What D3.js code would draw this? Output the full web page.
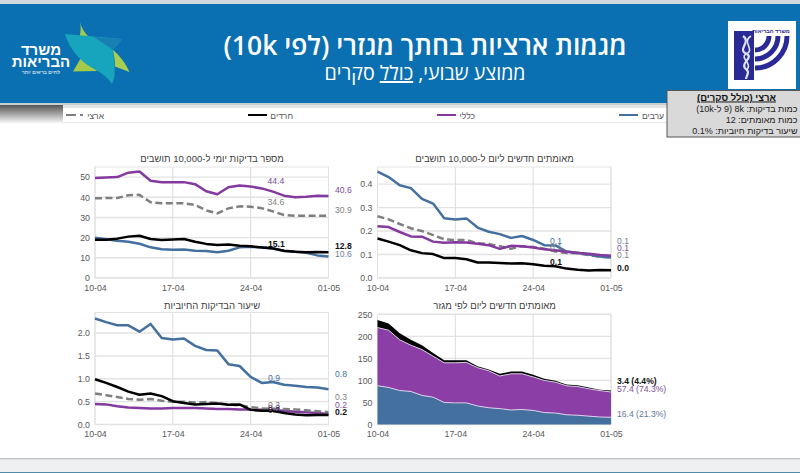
<!DOCTYPE html>
<html>
<head>
<meta charset="utf-8">
<script src="https://cdn.jsdelivr.net/npm/d3@7"></script>
<style>
  html, body { margin: 0; padding: 0; background: #fff; overflow: hidden; }
  text { font-family: "Liberation Sans", Arial, sans-serif; }
  .heb { direction: rtl; }
  .axis path, .axis line { display: none; }
  .axis text { font-size: 8.8px; fill: #595959; font-family: "Liberation Sans", sans-serif; }
</style>
</head>
<body>
<div id="my_dataviz"></div>
<script>
// data, one value per day
const days = ["10-04","11-04","12-04","13-04","14-04","15-04","16-04","17-04","18-04","19-04","20-04",
  "21-04","22-04","23-04","24-04","25-04","26-04","27-04","28-04","29-04","30-04","01-05"];
const tickDays = ["10-04","17-04","24-04","01-05"];

// daily tests per 10,000
const testsGeneral = [49.5,49.8,50,52.2,52.8,48.2,47.5,47.5,47.5,46.5,43,41.5,45,45.8,45.3,44.4,42.8,40.8,40,40.2,40.7,40.6];
const testsNational = [39.5,39.6,39.6,41,41.2,37.5,37,37,37,36.2,33.5,32,34.5,35.5,35.3,34.6,33,31.2,30.8,30.9,30.9,30.9];
const testsHaredi = [19,19,19.5,20.5,20.9,19.3,18.8,19.1,19.3,18,16.9,16.3,16.6,16,15.7,15.1,14.6,13.5,13,12.8,12.9,12.8];
const testsArab = [20,19.2,18.5,18,17,15.2,14.2,14,14.1,13.5,13.4,12.8,13.5,15.2,15.5,15.2,14.7,13.4,13,12.5,11.2,10.6];

// new confirmed per 10,000
const confirmedArab = [0.453,0.43,0.395,0.383,0.337,0.317,0.255,0.249,0.254,0.215,0.197,0.187,0.171,0.179,0.162,0.14,0.139,0.113,0.108,0.1,0.092,0.087];
const confirmedNational = [0.263,0.25,0.23,0.212,0.2,0.183,0.165,0.162,0.162,0.148,0.145,0.135,0.125,0.135,0.132,0.125,0.113,0.107,0.105,0.098,0.09,0.088];
const confirmedGeneral = [0.221,0.217,0.196,0.177,0.176,0.155,0.15,0.152,0.151,0.146,0.14,0.124,0.137,0.135,0.13,0.122,0.118,0.112,0.107,0.103,0.098,0.095];
const confirmedHaredi = [0.168,0.155,0.14,0.118,0.106,0.102,0.085,0.085,0.08,0.066,0.066,0.064,0.062,0.063,0.059,0.052,0.05,0.04,0.035,0.032,0.034,0.033];

// positive rate
const positiveArab = [2.32,2.24,2.17,2.17,2.03,2.2,1.89,1.86,1.88,1.72,1.63,1.62,1.32,1.28,1.04,0.91,0.93,0.87,0.85,0.82,0.81,0.77];
const positiveHaredi = [0.99,0.91,0.82,0.72,0.65,0.68,0.62,0.51,0.47,0.44,0.45,0.46,0.43,0.44,0.32,0.3,0.3,0.25,0.22,0.2,0.21,0.21];
const positiveNational = [0.68,0.64,0.6,0.56,0.54,0.56,0.52,0.5,0.5,0.48,0.49,0.47,0.44,0.42,0.38,0.35,0.34,0.34,0.33,0.31,0.29,0.27];
const positiveGeneral = [0.45,0.44,0.4,0.37,0.36,0.35,0.35,0.36,0.36,0.36,0.35,0.34,0.34,0.33,0.33,0.32,0.31,0.3,0.28,0.27,0.25,0.23];

// new confirmed per day by sector (stacked)
const casesArab = [88,84,77,75,66,62,50,49,49,42,38,36,33,34,32,27,26,22,21,19,17,16.4];
const casesGeneral = [132,130,115,105,104,93,90,91,92,87,84,74,82,81,76,73,70,66,65,62,60,57.4];
const casesHaredi = [17,15,15,12,10,7,6,6,5,3,3,5,5,5,5,4,3,3,3,3,2,3.4];

const blue = "#44709f", purple = "#84399f", black = "#000", gray = "#7f7f7f";
const headerBlue = "#0a70b2";
const emblemBlue = "#2a2a96";

const svg = d3.select("#my_dataviz").append("svg")
    .attr("width", 800)
    .attr("height", 473)
    .style("display", "block");

const defs = svg.append("defs");
const shadow = defs.append("linearGradient").attr("id", "shade").attr("x1", 0).attr("x2", 0).attr("y1", 0).attr("y2", 1);
shadow.append("stop").attr("offset", 0).attr("stop-color", "#555");
shadow.append("stop").attr("offset", 1).attr("stop-color", "#fff");

// page frame
svg.append("rect").attr("width", 800).attr("height", 4).attr("fill", "#cfd8df");
svg.append("rect").attr("y", 4).attr("width", 800).attr("height", 99).attr("fill", headerBlue);
svg.append("rect").attr("y", 103).attr("width", 800).attr("height", 2).attr("fill", "#c9ced3");
svg.append("rect").attr("y", 105).attr("width", 63).attr("height", 19).attr("fill", "url(#shade)");
svg.append("rect").attr("x", 63).attr("y", 105).attr("width", 737).attr("height", 3).attr("fill", "#e4e4e4");
svg.append("rect").attr("y", 459).attr("width", 800).attr("height", 13).attr("fill", "#eef0f2");
svg.append("rect").attr("y", 458).attr("width", 800).attr("height", 1.5).attr("fill", "#c4c6c8");
svg.append("rect").attr("y", 472).attr("width", 800).attr("height", 1).attr("fill", "#4f8aa8");

// titles
svg.append("text").attr("class", "heb").attr("x", 425).attr("y", 55)
    .attr("text-anchor", "middle").attr("fill", "#fff")
    .style("font-family", "'Open Sans','Liberation Sans',sans-serif")
    .style("font-size", "26.5px").style("font-weight", 600)
    .text("מגמות ארציות בחתך מגזרי (לפי 10k)");
const sub = svg.append("text").attr("class", "heb").attr("x", 425).attr("y", 80)
    .attr("text-anchor", "middle").attr("fill", "#fff")
    .style("font-family", "'Open Sans','Liberation Sans',sans-serif")
    .style("font-size", "19.6px");
sub.append("tspan").text("ממוצע שבועי, ");
sub.append("tspan").style("text-decoration", "underline").text("כולל");
sub.append("tspan").text(" סקרים");

// ministry mark, left
const mark = svg.append("g");
mark.append("path").attr("d", "M80 22 C82 30 87 36 94 41 L79 38 C81 33 81 27 80 22Z").attr("fill", "#a5c94a");
mark.append("path").attr("d", "M82 56 L73 71.5 L97 71 C92 65 87 60 82 56Z").attr("fill", "#a5c94a");
mark.append("path").attr("d", "M65 34 C70 50 80 62 96 70 C103 74 108 78 112 84 C116 76 115 68 113 50 L122 39Z").attr("fill", "#16a5bd");
mark.append("path").attr("d", "M94 37 L122 39 L113 50Z").attr("fill", "#1a80b3");
mark.append("path").attr("d", "M113 50 C120 56 126 64 129.5 72 L115 66.5 C115 61 114 55 113 50Z").attr("fill", "#a9cf52");
const markText = svg.append("g").attr("fill", "#fff").attr("text-anchor", "middle").attr("class", "heb");
markText.append("text").attr("x", 41).attr("y", 55).style("font-size", "15px").style("font-weight", 700).text("משרד");
markText.append("text").attr("x", 41).attr("y", 66.5).style("font-size", "15px").style("font-weight", 700).text("הבריאות");
markText.append("text").attr("x", 41).attr("y", 73.5).style("font-size", "5px").text("לחיים בריאים יותר");

// ministry emblem, right
svg.append("rect").attr("x", 728).attr("y", 21).attr("width", 68).attr("height", 68).attr("fill", "#fff");
const emblem = svg.append("g").attr("fill", "none").attr("stroke", emblemBlue);
emblem.append("rect").attr("x", 734).attr("y", 31).attr("width", 20).attr("height", 49).attr("fill", emblemBlue).attr("stroke", "none");
[32, 23, 14].forEach(function(r) {
  emblem.append("path").attr("d", `M${755 + r} 36 A${r} ${r} 0 0 1 755 ${36 + r}`).attr("stroke-width", 5);
});
emblem.append("path").attr("d", "M743 36 C752 42 736 50 747 54 C754 58 738 64 747 70 C750 73 746 76 746 79")
    .attr("stroke", "#dfe3f5").attr("stroke-width", 2.2);
emblem.append("path").attr("d", "M751 36 C741 42 756 50 746 54 C739 58 754 64 746 70")
    .attr("stroke", "#dfe3f5").attr("stroke-width", 1.6);
svg.append("text").attr("class", "heb").attr("x", 771).attr("y", 33).attr("text-anchor", "middle")
    .attr("fill", emblemBlue).style("font-size", "5.5px").style("font-weight", 700).text("משרד הבריאות");

// legend strip
svg.append("rect").attr("x", 63).attr("y", 108).attr("width", 605).attr("height", 14).attr("fill", "#fff");
svg.append("rect").attr("x", 63).attr("y", 122).attr("width", 605).attr("height", 1).attr("fill", "#e6e6e6");
const legendItems = [
  {name: "ארצי", color: gray, dash: "10 4 3 99", x1: 66, x2: 83, tx: 104},
  {name: "חרדים", color: black, dash: null, x1: 248, x2: 267, tx: 293},
  {name: "כללי", color: purple, dash: null, x1: 437, x2: 456, tx: 475},
  {name: "ערבים", color: blue, dash: null, x1: 619, x2: 638, tx: 664}
];
legendItems.forEach(function(d) {
  svg.append("line").attr("x1", d.x1).attr("x2", d.x2).attr("y1", 115).attr("y2", 115)
      .attr("stroke", d.color).attr("stroke-width", 2).attr("stroke-dasharray", d.dash);
  svg.append("text").attr("class", "heb").attr("x", d.tx).attr("y", 118.5).attr("text-anchor", "start")
      .attr("fill", "#555").style("font-size", "8.5px").text(d.name);
});

// info box
svg.append("rect").attr("x", 667).attr("y", 90.5).attr("width", 134).attr("height", 46.5)
    .attr("fill", "#d9d9d9").attr("stroke", "#555");
svg.append("text").attr("class", "heb").attr("x", 736.5).attr("y", 100.5).attr("text-anchor", "middle")
    .attr("fill", "#111").style("font-size", "9.5px").style("font-weight", 700)
    .style("text-decoration", "underline").text("ארצי (כולל סקרים)");
["כמות בדיקות: 8k (9 ל-10k)", "כמות מאומתים: 12", "שיעור בדיקות חיוביות: 0.1%"].forEach(function(t, i) {
  svg.append("text").attr("class", "heb").attr("x", 797.5).attr("y", 112 + i * 11.2).attr("text-anchor", "start")
      .attr("fill", "#222").style("font-size", "9px").text(t);
});

const parseDay = function(s) {
  const p = s.split("-");
  return new Date(2020, +p[1] - 1, +p[0]);
};
const formatDay = d3.timeFormat("%d-%m");
const dates = days.map(parseDay);

// builds the frame shared by the four panels
function panel(opt) {
  const x = d3.scaleTime().domain(d3.extent(dates)).range([opt.left, opt.left + 233.5]);
  const y = d3.scaleLinear().domain(opt.domain).range([opt.bottom, opt.top]);
  const g = svg.append("g");

  // grid
  opt.ticks.forEach(function(t) {
    g.append("line").attr("x1", x.range()[0]).attr("x2", x.range()[1])
        .attr("y1", y(t)).attr("y2", y(t))
        .attr("stroke", "#e3e3e3").attr("stroke-width", 1.4);
  });
  tickDays.forEach(function(t) {
    g.append("line").attr("x1", x(parseDay(t))).attr("x2", x(parseDay(t)))
        .attr("y1", opt.top).attr("y2", opt.bottom)
        .attr("stroke", "#dcdcdc").attr("stroke-width", 1);
  });
  g.append("rect").attr("x", x.range()[0]).attr("y", opt.top)
      .attr("width", x.range()[1] - x.range()[0]).attr("height", opt.bottom - opt.top)
      .attr("fill", "none").attr("stroke", "#e3e3e3").attr("stroke-width", 1);

  // axes
  g.append("g").attr("class", "axis")
      .attr("transform", `translate(0,${opt.bottom})`)
      .call(d3.axisBottom(x).tickValues(tickDays.map(parseDay)).tickFormat(formatDay).tickSize(0).tickPadding(6.5));
  g.append("g").attr("class", "axis")
      .attr("transform", `translate(${opt.left},0)`)
      .call(d3.axisLeft(y).tickValues(opt.ticks).tickFormat(d3.format(opt.fmt)).tickSize(0).tickPadding(5));

  // title
  g.append("text").attr("class", "heb").attr("x", opt.left + 117).attr("y", opt.titleY)
      .attr("text-anchor", "middle").attr("fill", "#404040").style("font-size", "9.5px").text(opt.title);
  return {x: x, y: y, g: g};
}

function drawLine(p, values, color, dash) {
  const line = d3.line().x((d, i) => p.x(dates[i])).y(d => p.y(d));
  p.g.append("path").datum(values).attr("d", line)
      .attr("fill", "none").attr("stroke", color).attr("stroke-width", 2.5)
      .attr("stroke-linejoin", "round").attr("stroke-dasharray", dash);
}

function drawLabel(p, txt, px, py, color, bold) {
  p.g.append("text").attr("x", px).attr("y", py).attr("fill", color)
      .style("font-size", "8.6px").style("font-weight", bold ? 700 : 400).text(txt);
}

// daily tests
const tests = panel({left: 95, top: 167, bottom: 278, titleY: 161.5, domain: [0, 55], ticks: [0,10,20,30,40,50], fmt: "d",
  title: "מספר בדיקות יומי ל-10,000 תושבים"});
drawLine(tests, testsArab, blue);
drawLine(tests, testsNational, gray, "7 3.5");
drawLine(tests, testsHaredi, black);
drawLine(tests, testsGeneral, purple);
drawLabel(tests, "44.4", 267.5, 184, "#7b4d98");
drawLabel(tests, "34.6", 267.5, 205.3, "#7f7f7f");
drawLabel(tests, "15.1", 268, 246.7, "#111", true);
drawLabel(tests, "40.6", 335, 193, "#7b4d98");
drawLabel(tests, "30.9", 335, 213, "#7f7f7f");
drawLabel(tests, "12.8", 335, 249.3, "#111", true);
drawLabel(tests, "10.6", 335, 257, "#6f7f95");

// confirmed per 10k
const confirmed = panel({left: 377.5, top: 167, bottom: 278, titleY: 161.5, domain: [0, 0.473], ticks: [0,0.1,0.2,0.3,0.4], fmt: ".1f",
  title: "מאומתים חדשים ליום ל-10,000 תושבים"});
drawLine(confirmed, confirmedNational, gray, "7 3.5");
drawLine(confirmed, confirmedArab, blue);
drawLine(confirmed, confirmedHaredi, black);
drawLine(confirmed, confirmedGeneral, purple);
drawLabel(confirmed, "0.1", 550, 244, "#44709f");
drawLabel(confirmed, "0.1", 550, 250, "#7f7f7f");
drawLabel(confirmed, "0.1", 550, 265.3, "#111", true);
drawLabel(confirmed, "0.1", 617, 243.7, "#6f7f95");
drawLabel(confirmed, "0.1", 617, 251.3, "#7b4d98");
drawLabel(confirmed, "0.1", 617, 258.3, "#7f7f7f");
drawLabel(confirmed, "0.0", 617, 271, "#111", true);

// positive rate
const positive = panel({left: 95, top: 312.5, bottom: 424.5, titleY: 308.5, domain: [0, 2.45], ticks: [0,0.5,1,1.5,2], fmt: ".1f",
  title: "שיעור הבדיקות החיוביות"});
drawLine(positive, positiveArab, blue);
drawLine(positive, positiveGeneral, purple);
drawLine(positive, positiveNational, gray, "7 3.5");
drawLine(positive, positiveHaredi, black);
drawLabel(positive, "0.9", 268, 381, "#44709f");
drawLabel(positive, "0.3", 268, 408, "#7f7f7f");
drawLabel(positive, "0.2", 268, 410.7, "#7b4d98");
drawLabel(positive, "0.2", 268, 413, "#111");
drawLabel(positive, "0.8", 335, 377.3, "#44709f");
drawLabel(positive, "0.3", 335, 399.7, "#7f7f7f");
drawLabel(positive, "0.2", 335, 407.7, "#7b4d98");
drawLabel(positive, "0.2", 335, 415.3, "#111", true);

// stacked confirmed per day
const cases = panel({left: 377.5, top: 314.3, bottom: 424.5, titleY: 308.5, domain: [0, 250], ticks: [0,50,100,150,200,250], fmt: "d",
  title: "מאומתים חדשים ליום לפי מגזר"});
const stackRows = days.map(function(d, i) {
  return {i: i, arab: casesArab[i], general: casesGeneral[i], haredi: casesHaredi[i]};
});
const layers = d3.stack().keys(["arab", "general", "haredi"])(stackRows);
const layerColor = {arab: blue, general: "#8a3ea6", haredi: black};
const area = d3.area()
    .x(d => cases.x(dates[d.data.i]))
    .y0(d => cases.y(d[0]))
    .y1(d => cases.y(d[1]));
const topLine = d3.line().x(d => cases.x(dates[d.data.i])).y(d => cases.y(d[1]));
cases.g.selectAll(".layer").data(layers).enter().append("path")
    .attr("class", "layer").attr("d", area).attr("fill", d => layerColor[d.key]);
cases.g.selectAll(".edge").data(layers).enter().append("path")
    .attr("class", "edge").attr("d", topLine).attr("fill", "none")
    .attr("stroke", "#e6d9ee").attr("stroke-width", 1).attr("opacity", d => d.key === "haredi" ? 0 : 0.9);
drawLabel(cases, "3.4 (4.4%)", 617, 384, "#111", true);
drawLabel(cases, "57.4 (74.3%)", 617, 392, "#7b4d98");
drawLabel(cases, "16.4 (21.3%)", 617, 417.3, "#5f7a99");
</script>
</body>
</html>
